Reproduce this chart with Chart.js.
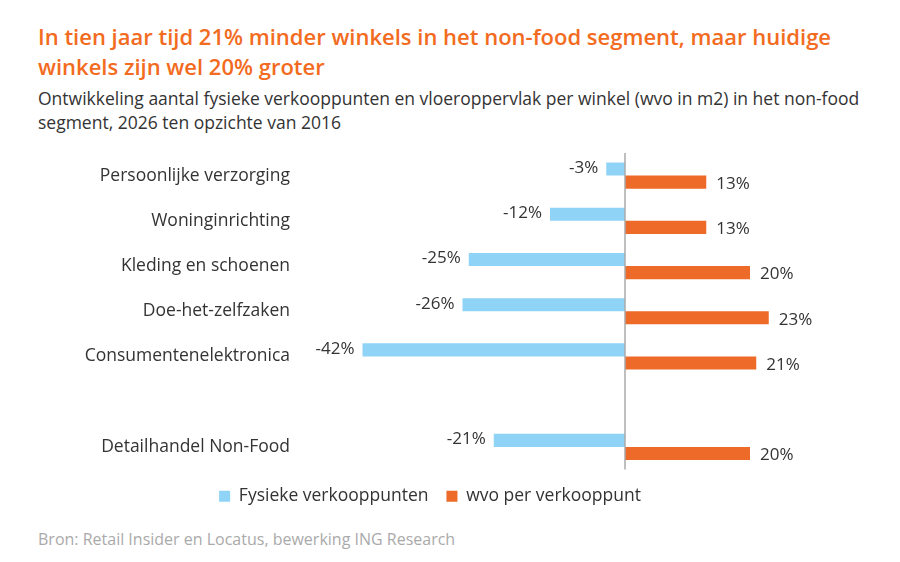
<!DOCTYPE html>
<html><head><meta charset="utf-8">
<script src="https://cdn.jsdelivr.net/npm/chart.js@4/dist/chart.umd.min.js"></script>
<style>
body{margin:0;width:900px;height:562px;background:#fff;font-family:"Open Sans",sans-serif;position:relative;overflow:hidden}
#t{position:absolute;left:38px;top:21px;color:#f26b21;font-weight:600;font-size:22px;line-height:30px;width:835px}
#s{position:absolute;left:38px;top:86px;color:#333;font-size:17.5px;line-height:24px;width:830px}
#src{position:absolute;left:38px;top:528px;color:#aaa;font-size:16px}
#w{position:absolute;left:0;top:140px;width:900px;height:375px}
</style></head><body>
<div id="t">In tien jaar tijd 21% minder winkels in het non-food segment, maar huidige winkels zijn wel 20% groter</div>
<div id="s">Ontwikkeling aantal fysieke verkooppunten en vloeroppervlak per winkel (wvo in m2) in het non-food segment, 2026 ten opzichte van 2016</div>
<div id="w"><canvas id="c"></canvas></div>
<div id="src">Bron: Retail Insider en Locatus, bewerking ING Research</div>
<script>
const categories=["Persoonlijke verzorging","Woninginrichting","Kleding en schoenen","Doe-het-zelfzaken","Consumentenelektronica","","Detailhandel Non-Food"];
const fysieke=[-3,-12,-25,-26,-42,null,-21];
const wvo=[13,13,20,23,21,null,20];
const seriesNames=["Fysieke verkooppunten","wvo per verkooppunt"];
const labelsPlugin={id:'lbl',afterDatasetsDraw(ch){const c=ch.ctx;c.save();c.font='17px "Open Sans"';c.fillStyle='#333';c.textBaseline='middle';
ch.data.datasets.forEach((d,i)=>{ch.getDatasetMeta(i).data.forEach((b,j)=>{const v=d.data[j];if(v==null)return;
if(v<0){c.textAlign='right';c.fillText(v+'%',b.x-8,b.y-1);}else{c.textAlign='left';c.fillText(v+'%',b.x+10,b.y+2);}});});
const x=ch.scales.x.getPixelForValue(0);c.strokeStyle='#aaa';c.lineWidth=1.5;c.beginPath();c.moveTo(x,ch.chartArea.top);c.lineTo(x,ch.chartArea.bottom);c.stroke();c.restore();}};
new Chart(document.getElementById('c'),{type:'bar',
data:{labels:categories,datasets:[
{label:seriesNames[0],data:fysieke,backgroundColor:'#8fd4f7',barPercentage:1,categoryPercentage:0.58},
{label:seriesNames[1],data:wvo,backgroundColor:'#ee6a28',barPercentage:1,categoryPercentage:0.58}]},
options:{indexAxis:'y',responsive:true,maintainAspectRatio:false,animation:false,
layout:{padding:{top:13,right:40,bottom:0}},
scales:{x:{display:false,min:-52,max:37.6},
y:{grid:{display:false},border:{display:false},afterFit(s){s.width=300;},ticks:{color:'#333',padding:2,font:{size:17.5,family:'"Open Sans"'}}}},
plugins:{tooltip:{enabled:false},legend:{position:'bottom',labels:{boxWidth:11,boxHeight:11,padding:18,color:'#333',font:{size:17.5,family:'"Open Sans"'}}}}},
plugins:[labelsPlugin]});
</script></body></html>
